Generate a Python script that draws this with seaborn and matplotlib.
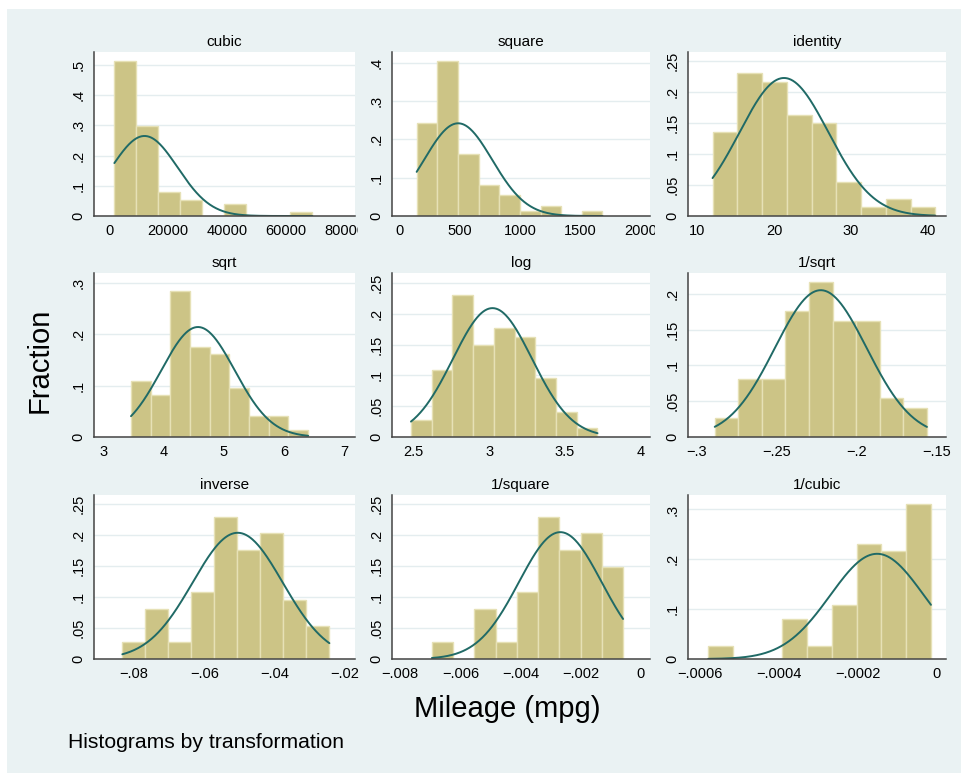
import numpy as np
import pandas as pd
import seaborn as sns
from matplotlib import pyplot as plt
from matplotlib.patches import Rectangle
from matplotlib.ticker import FuncFormatter
from matplotlib.transforms import Bbox, TransformedBbox

# mileage (mpg), ladder of powers
titles = ["cubic", "square", "identity", "sqrt", "log", "1/sqrt",
          "inverse", "1/square", "1/cubic"]
bin_lo = [1728, 144, 12, 3.464, 2.485, -0.2887, -0.08333, -0.006944, -0.0005787]
bin_hi = [68921, 1681, 41, 6.403, 3.714, -0.1562, -0.02439, -0.000595, -0.0000145]
fractions = [
    [0.514, 0.297, 0.081, 0.054, 0, 0.041, 0, 0, 0.014],
    [0.243, 0.405, 0.162, 0.081, 0.054, 0.014, 0.027, 0, 0.014],
    [0.135, 0.230, 0.216, 0.162, 0.149, 0.054, 0.014, 0.027, 0.014],
    [0.108, 0.081, 0.284, 0.176, 0.162, 0.095, 0.041, 0.041, 0.014],
    [0.027, 0.108, 0.230, 0.149, 0.176, 0.162, 0.095, 0.041, 0.014],
    [0.027, 0.081, 0.081, 0.176, 0.216, 0.162, 0.162, 0.054, 0.041],
    [0.027, 0.081, 0.027, 0.108, 0.230, 0.176, 0.203, 0.095, 0.054],
    [0.027, 0, 0.081, 0.027, 0.108, 0.230, 0.176, 0.203, 0.149],
    [0.027, 0, 0, 0.081, 0.027, 0.108, 0.230, 0.216, 0.311],
]
norm_mean = [11950, 487, 21.3, 4.575, 3.022, -0.2225, -0.0505, -0.00268, -0.000151]
norm_sd = [11240, 281.6, 5.786, 0.609, 0.2606, 0.02865, 0.01281, 0.001373, 0.0001185]
xticks = [
    [0, 20000, 40000, 60000, 80000],
    [0, 500, 1000, 1500, 2000],
    [10, 20, 30, 40],
    [3, 4, 5, 6, 7],
    [2.5, 3, 3.5, 4],
    [-0.3, -0.25, -0.2, -0.15],
    [-0.08, -0.06, -0.04, -0.02],
    [-0.008, -0.006, -0.004, -0.002, 0],
    [-0.0006, -0.0004, -0.0002, 0],
]
yticks = [
    [0, 0.1, 0.2, 0.3, 0.4, 0.5],
    [0, 0.1, 0.2, 0.3, 0.4],
    [0, 0.05, 0.1, 0.15, 0.2, 0.25],
    [0, 0.1, 0.2, 0.3],
    [0, 0.05, 0.1, 0.15, 0.2, 0.25],
    [0, 0.05, 0.1, 0.15, 0.2],
    [0, 0.05, 0.1, 0.15, 0.2, 0.25],
    [0, 0.05, 0.1, 0.15, 0.2, 0.25],
    [0, 0.1, 0.2, 0.3],
]

# layout (pixels of the 961x773 reference)
W, H = 961, 773
col_left = [94, 392, 688]
col_right = [355, 650, 946]
row_top = [52, 273, 495]
row_bottom = [216, 437, 659]
xlims = [(-5190, 83400), (-60, 2074), (8.8, 42.4), (2.85, 7.18), (2.36, 4.06),
         (-0.3054, -0.1443), (-0.0914, -0.0171), (-0.00827, 0.0003),
         (-0.00063, 0.0000236)]
ytops = [0.543, 0.428, 0.264, 0.319, 0.266, 0.229, 0.265, 0.265, 0.329]

bg = "#EAF2F3"
bar_col = "#CCC486"
edge_col = "#E6E1B6"
line_col = "#206A66"
axis_col = "#444444"

sns.set_style("white")
plt.rcParams["font.family"] = ["Liberation Sans", "DejaVu Sans"]
plt.rcParams["axes.unicode_minus"] = True
plt.rcParams["text.color"] = "black"
plt.rcParams["axes.labelcolor"] = "black"
plt.rcParams["xtick.labelcolor"] = "black"
plt.rcParams["ytick.labelcolor"] = "black"


def stata_fmt(v, pos=None):
    if abs(v) < 1e-12:
        return "0"
    s = f"{v:g}"
    if s.startswith("0."):
        s = s[1:]
    elif s.startswith("-0."):
        s = "-" + s[2:]
    return s.replace("-", "\u2212")


fig = plt.figure(figsize=(W / 100, H / 100), dpi=100, facecolor="white")
fig.patches.append(Rectangle((7 / W, 0), 1, 1 - 9 / H, transform=fig.transFigure,
                             facecolor=bg, edgecolor="none", zorder=-10))

axes = []
for i in range(9):
    r, c = divmod(i, 3)
    ax = fig.add_axes([col_left[c] / W, 1 - row_bottom[r] / H,
                       (col_right[c] - col_left[c]) / W,
                       (row_bottom[r] - row_top[r]) / H])
    frac = fractions[i]
    nb = len(frac)
    width = (bin_hi[i] - bin_lo[i]) / nb
    df = pd.DataFrame({
        "x": [bin_lo[i] + (k + 0.5) * width for k in range(nb)],
        "w": frac,
    })
    sns.histplot(data=df, x="x", weights="w", bins=nb,
                 binrange=(bin_lo[i], bin_hi[i]), stat="count", ax=ax,
                 color=bar_col, alpha=1, edgecolor=edge_col, linewidth=1)

    xs = np.linspace(bin_lo[i], bin_hi[i], 300)
    ys = width * np.exp(-0.5 * ((xs - norm_mean[i]) / norm_sd[i]) ** 2) / (norm_sd[i] * np.sqrt(2 * np.pi))
    sns.lineplot(x=xs, y=ys, ax=ax, color=line_col, linewidth=1.4)

    ax.set_facecolor("white")
    ax.set_xlim(*xlims[i])
    ax.set_ylim(0, ytops[i])
    ax.set_xticks(xticks[i])
    ax.set_yticks(yticks[i])
    ax.xaxis.set_major_formatter(FuncFormatter(stata_fmt))
    ax.yaxis.set_major_formatter(FuncFormatter(stata_fmt))
    ax.yaxis.grid(True, color="#E4EDEF", linewidth=1)
    ax.set_axisbelow(True)
    for side in ["top", "right"]:
        ax.spines[side].set_visible(False)
    for side in ["left", "bottom"]:
        ax.spines[side].set_color(axis_col)
        ax.spines[side].set_linewidth(1.1)
    ax.tick_params(direction="out", length=4, width=1, color=axis_col,
                   labelsize=10.5, pad=2, labelcolor="black")
    plt.setp(ax.get_yticklabels(), rotation=90, va="center")
    ax.set_xlabel("")
    ax.set_ylabel("")
    ax.set_title(titles[i], fontsize=11, pad=4, color="black")
    axes.append(ax)

# the last x labels of the first two panels get cut by the next panel
for ax, clip_x in [(axes[0], 358), (axes[1], 655)]:
    lab = ax.xaxis.get_major_ticks()[-1].label1
    lab.set_clip_box(TransformedBbox(Bbox.from_extents(0, 0, clip_x / W, 1), fig.transFigure))
    lab.set_clip_on(True)

fig.text(40 / W, 1 - 360 / H, "Fraction", rotation=90, fontsize=21,
         ha="center", va="center", color="black")
fig.text(507 / W, 1 - 709 / H, "Mileage (mpg)", fontsize=21,
         ha="center", va="center", color="black")
fig.text(68 / W, 1 - 743 / H, "Histograms by transformation", fontsize=15.2,
         ha="left", va="center", color="black")

fig.savefig("out.png", dpi=100, facecolor="white")
